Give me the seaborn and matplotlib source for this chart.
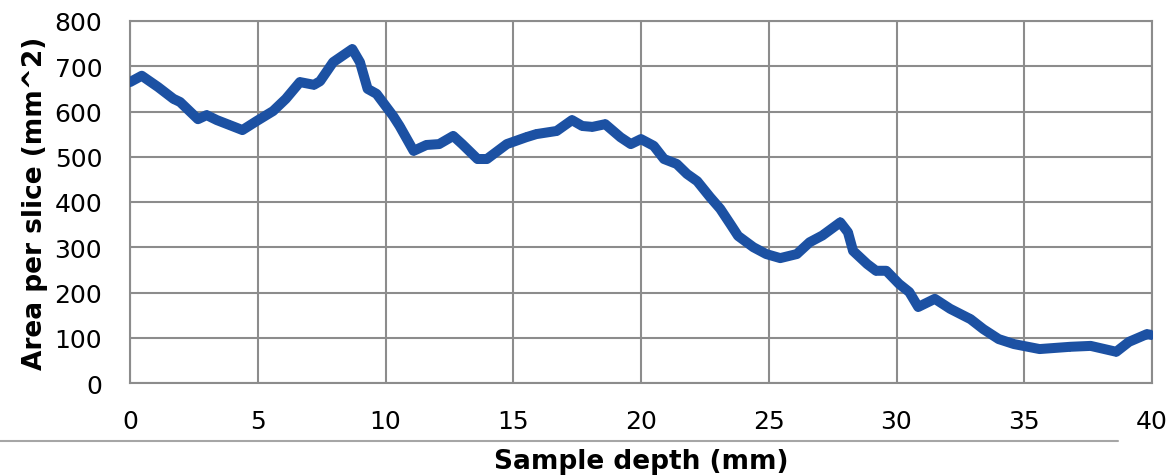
import matplotlib
matplotlib.use("Agg")
import matplotlib.pyplot as plt
from matplotlib.lines import Line2D
import seaborn as sns

# values
depth_mm = [0, 0.46, 1.1, 1.7, 1.96, 2.66, 3.0, 3.4, 3.9, 4.4,
            4.96, 5.6, 6.1, 6.65, 7.2, 7.44, 7.95, 8.7, 9.0, 9.3,
            9.65, 10.3, 10.55, 11.1, 11.6, 12.1, 12.65, 13.0, 13.6, 13.97,
            14.75, 15.5, 15.9, 16.7, 17.3, 17.7, 18.1, 18.6, 19.2, 19.6,
            20.0, 20.5, 20.9, 21.4, 21.8, 22.2, 22.7, 23.1, 23.5, 23.8,
            24.4, 24.9, 25.45, 26.1, 26.6, 27.1, 27.8, 28.1, 28.3, 28.85,
            29.2, 29.6, 30.1, 30.5, 30.85, 31.5, 32.1, 32.9, 33.4, 34.0,
            34.6, 35.6, 36.8, 37.6, 38.6, 39.1, 39.8, 40.0]
area_mm2 = [665, 679, 654, 628, 621, 583, 592, 581, 570, 559,
            579, 601, 628, 665, 659, 667, 709, 738, 709, 650,
            639, 590, 568, 513, 526, 528, 546, 528, 495, 495,
            528, 543, 550, 557, 581, 568, 566, 572, 543, 528,
            539, 524, 495, 484, 462, 446, 411, 385, 351, 325,
            300, 285, 276, 285, 311, 326, 355, 333, 292, 263,
            248, 248, 219, 201, 168, 186, 164, 141, 119, 97,
            86, 75, 80, 82, 69, 91, 108, 106]
x_ticks = [0, 5, 10, 15, 20, 25, 30, 35, 40]
y_ticks = [0, 100, 200, 300, 400, 500, 600, 700, 800]

sns.set_style("white")
plt.rcParams['font.family'] = ['DejaVu Sans']
plt.rcParams['text.color'] = 'black'
plt.rcParams['xtick.labelcolor'] = 'black'
plt.rcParams['ytick.labelcolor'] = 'black'
plt.rcParams['axes.labelcolor'] = 'black'

grid_col = '#8C8C8C'
line_col = '#1C51A3'

fig = plt.figure(figsize=(11.74, 4.77), dpi=100)
ax = fig.add_axes([130 / 1174, 1 - 384 / 477, 1022 / 1174, 362 / 477])

sns.lineplot(x=depth_mm, y=area_mm2, ax=ax, sort=False, estimator=None,
             color=line_col, linewidth=7.2, marker='D', markersize=5.5,
             markeredgewidth=0, solid_joinstyle='round', zorder=3)

ax.set_xlim(0, 40)
ax.set_ylim(0, 800)
ax.set_xticks(x_ticks)
ax.set_yticks(y_ticks)
ax.grid(True, color=grid_col, linewidth=1.5)
for sp in ax.spines.values():
    sp.set_visible(True)
    sp.set_color(grid_col)
    sp.set_linewidth(1.5)
ax.tick_params(axis='both', direction='out', length=6, width=1.5,
               color='#A0A0A0', labelsize=18)
ax.tick_params(axis='y', pad=14)
ax.tick_params(axis='x', pad=13)

ax.set_xlabel('Sample depth (mm)', fontsize=19, fontweight='bold')
ax.set_ylabel('Area per slice (mm^2)', fontsize=19, fontweight='bold')
ax.xaxis.label.set_va('center')
ax.yaxis.label.set_va('center')
ax.xaxis.set_label_coords(0.5, -(462 - 384) / 362)
ax.yaxis.set_label_coords(-(130 - 35) / 1022, 0.5)

# thin grey rule under the tick labels
fig.add_artist(Line2D([0, 1118 / 1174], [1 - 442 / 477] * 2,
                      transform=fig.transFigure, color='#A6A6A6', lw=1.5))

fig.savefig('out.png', dpi=100)
